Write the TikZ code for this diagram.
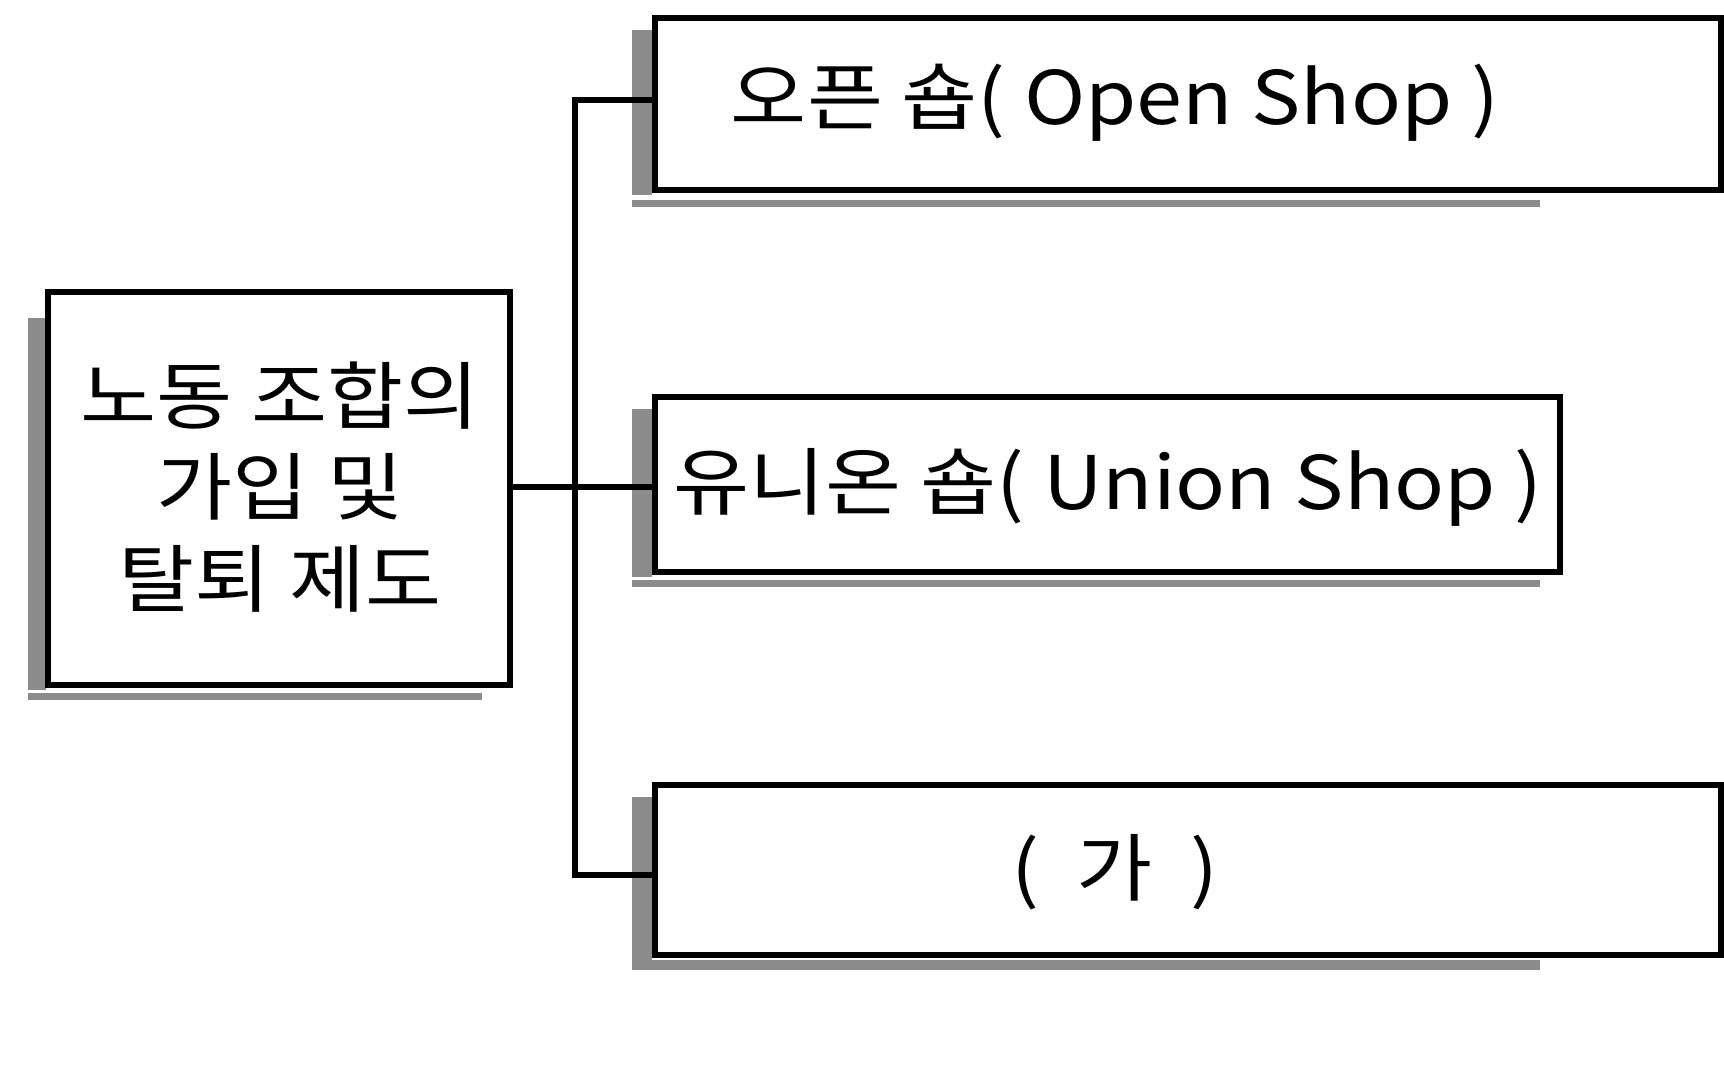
\documentclass[tikz,border=0pt]{standalone}
\usepackage{fontspec}
\setmainfont{Noto Sans CJK KR}
\begin{document}
\begin{tikzpicture}[x=0.01cm,y=-0.01cm,
  box/.style={draw=black,line width=1.8pt,fill=white},
  shade/.style={fill=black!45,draw=none},
  conn/.style={draw=black,line width=1.5pt},
  lbl/.style={font=\fontsize{21}{26}\selectfont,align=center,xscale=1.12}]
\useasboundingbox (0,0) rectangle (1724,1076);
% shadows
\fill[shade] (28,318) rectangle (46,690);
\fill[shade] (28,693) rectangle (482,700);
\foreach \t/\b in {18/190,397/572,785/955}{
  \fill[shade] (632,\t+12) rectangle (652,\b+5);
}
\fill[shade] (632,200) rectangle (1540,207);
\fill[shade] (632,580) rectangle (1540,587);
\fill[shade] (632,960) rectangle (1540,970);
% boxes
\path[box] (48,292) rectangle (510,685);
\path[box] (655,18) rectangle (1721,190);
\path[box] (655,397) rectangle (1560,572);
\path[box] (655,785) rectangle (1721,955);
\node[lbl] (main) at (280,487) {노동 조합의\\가입 및\\탈퇴 제도};
\node[lbl] (open) at (1115,103) {오픈 숍( Open Shop )};
\node[lbl] (union) at (1108,487) {유니온 숍( Union Shop )};
\node[lbl] (ga) at (1115,872) {(\ \ 가\ \ )};
\coordinate (L) at (510,487);
\coordinate (J) at (575,487);
\coordinate (T) at (575,100);
\coordinate (B) at (575,875);
\coordinate (oT) at (655,100);
\coordinate (oM) at (655,487);
\coordinate (oB) at (655,875);
\draw[conn] (L) -- (oM);
\draw[conn] (oT) -- (T) -- (B) -- (oB);
\end{tikzpicture}
\end{document}
